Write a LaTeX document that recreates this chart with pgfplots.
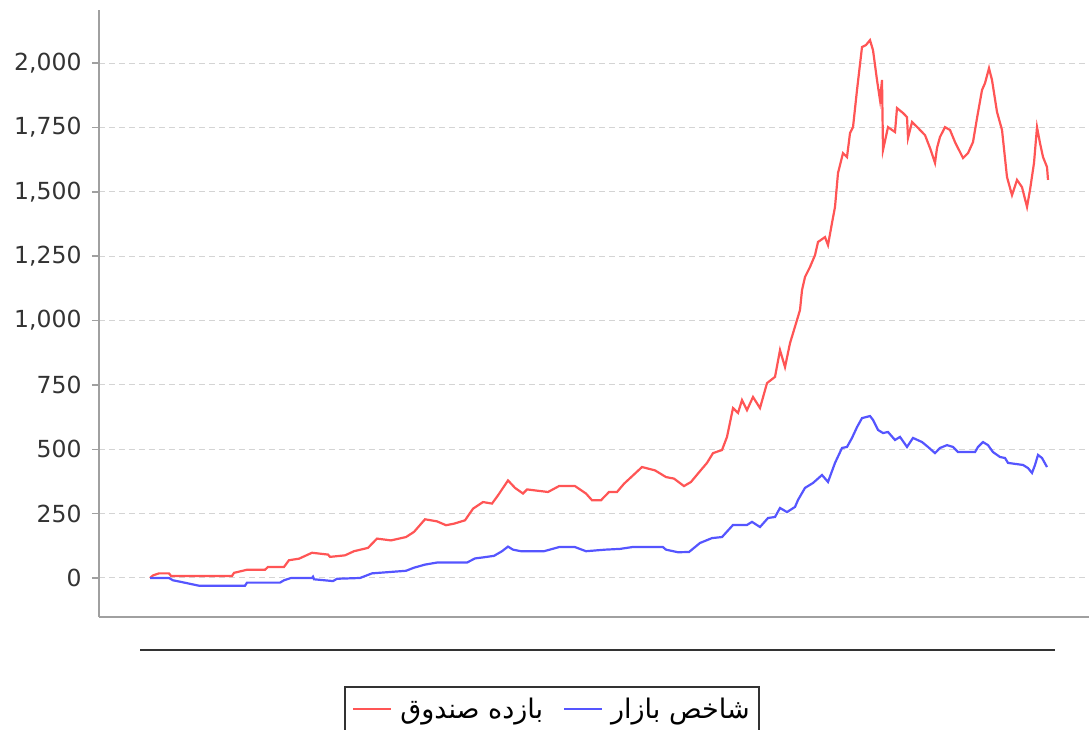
\documentclass[border=0pt]{standalone}
\usepackage{pgfplots}
\pgfplotsset{compat=1.18}
\usepackage{fontspec}
\setmainfont{DejaVu Sans}
\newfontfamily\arabicfont[Script=Arabic]{DejaVu Sans}
\TeXXeTstate=1
\definecolor{fundred}{HTML}{FF5555}
\definecolor{mktblue}{HTML}{5555FF}
\definecolor{axgray}{HTML}{A0A0A0}
\definecolor{gridgray}{HTML}{D4D4D4}
\definecolor{txtgray}{HTML}{333333}

\begin{document}
\begin{tikzpicture}[x=1pt,y=1pt]
\useasboundingbox (0,0) rectangle (1089,729);
\clip (0,0) rectangle (1089,729);
\draw[line width=2pt, txtgray] (140,79) -- (1055,79);
\begin{axis}[
  at={(99pt,112pt)}, anchor=south west,
  scale only axis, width=990pt, height=607pt,
  xmin=99, xmax=1089, ymin=-151.5, ymax=2206,
  axis x line*=bottom, axis y line*=left,
  axis line style={axgray, line width=2pt, -},
  xtick=\empty,
  ytick={0,250,500,750,1000,1250,1500,1750,2000},
  scaled y ticks=false,
  yticklabel style={xshift=-7pt, /pgf/number format/.cd, fixed, 1000 sep={,}, assume math mode=true},
  ticklabel style={font=\fontsize{23.5}{26}\selectfont, color=txtgray},
  ymajorgrids,
  grid style={gridgray, dash pattern=on 6pt off 4pt, line width=1pt},
  tick align=outside, major tick length=7pt,
  tick style={axgray, line width=1.5pt},
  legend columns=2,
  legend style={at={(0.4576,-0.1137)}, anchor=north, draw=txtgray, line width=2pt,
    font=\fontsize{27}{30}\selectfont, inner xsep=7pt, inner ysep=9pt,
    /tikz/every odd column/.append style={column sep=6pt},
    /tikz/every even column/.append style={column sep=18pt}},
  legend image code/.code={\draw[#1, line width=2pt] (0pt,0pt) -- (38pt,0pt);},
]
\addplot[fundred, line width=2.2pt, mark=none] coordinates {
(150,0) (153,10) (159,18) (169,18) (171,8) (232,8) (234,20) (247,32) (265,32) (268,43)
(284,43) (289,69) (299,75) (312,98) (328,91) (330,82) (345,88) (354,104) (368,117) (377,153)
(391,146) (406,159) (414,179) (425,228) (437,220) (446,205) (454,211) (465,224) (473,269) (483,295)
(492,289) (498,321) (508,379) (515,350) (523,328) (527,344) (548,334) (559,357) (575,357) (586,328)
(592,302) (601,302) (609,334) (617,334) (624,366) (642,431) (655,418) (666,392) (674,386) (684,357)
(691,373) (700,415) (707,447) (713,485) (722,497) (727,548) (733,660) (738,641) (742,691) (747,652)
(753,703) (760,660) (767,757) (775,781) (780,885) (785,819) (790,912) (797,1002) (800,1041) (802,1118)
(805,1169) (810,1208) (815,1254) (818,1305) (825,1324) (828,1293) (832,1379) (835,1441) (838,1573) (843,1650)
(847,1635) (850,1728) (853,1751) (857,1895) (862,2062) (866,2070) (870,2089) (873,2050) (877,1934) (880,1856)
(882,1934) (883,1662) (888,1751) (895,1732) (897,1825) (903,1806) (907,1790) (908,1709) (912,1771) (918,1748)
(925,1720) (930,1670) (935,1612) (937,1670) (940,1713) (945,1751) (950,1740) (955,1693) (963,1631) (968,1650)
(973,1693) (977,1786) (982,1895) (985,1922) (989,1980) (992,1934) (997,1810) (1002,1740) (1007,1557) (1012,1487)
(1017,1546) (1022,1518) (1027,1441) (1030,1507) (1034,1612) (1037,1751) (1040,1689) (1043,1635) (1047,1596) (1048,1546)
};
\addlegendentry{\arabicfont\beginR بازده صندوق\endR}
\addplot[mktblue, line width=2.2pt, mark=none] coordinates {
(150,0) (169,0) (173,-9) (182,-16) (199,-30) (245,-30) (247,-18) (280,-18) (284,-9) (291,0)
(312,0) (313,5) (314,-5) (333,-12) (337,-3) (360,0) (372,18) (406,28) (414,40) (425,52)
(437,60) (467,60) (475,76) (483,80) (494,86) (502,104) (508,122) (513,110) (521,104) (544,104)
(559,120) (575,120) (586,104) (605,110) (620,113) (632,120) (663,120) (666,110) (678,100) (689,101)
(700,136) (712,155) (722,159) (733,206) (747,206) (752,218) (760,198) (768,233) (775,237) (780,272)
(787,256) (795,276) (798,303) (805,350) (813,369) (822,400) (828,373) (835,447) (842,505) (847,509)
(852,544) (857,586) (862,621) (870,629) (873,614) (878,575) (883,563) (888,567) (895,536) (900,548)
(907,509) (913,544) (922,528) (928,509) (935,485) (940,505) (947,516) (953,509) (958,489) (975,489)
(978,509) (983,528) (988,516) (993,489) (1000,470) (1005,466) (1008,447) (1023,439) (1028,427) (1032,408)
(1035,439) (1038,478) (1042,466) (1047,431)
};
\addlegendentry{\arabicfont\beginR شاخص بازار\endR}
\end{axis}
\end{tikzpicture}
\end{document}
